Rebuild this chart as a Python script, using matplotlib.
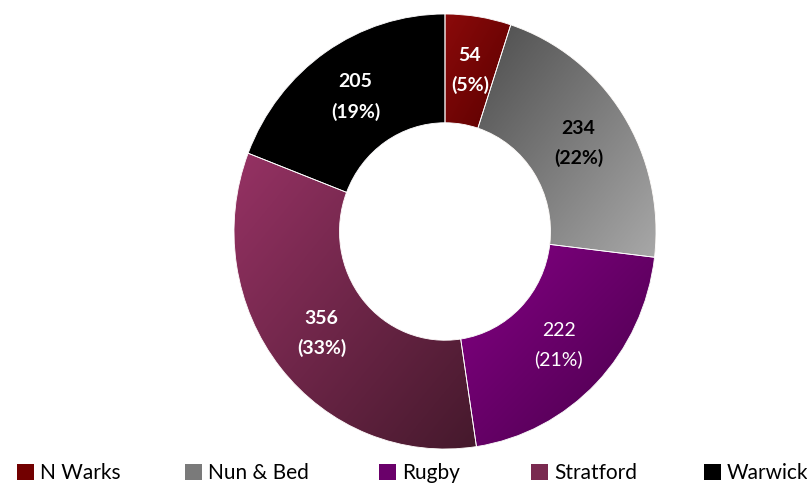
import numpy as np
import matplotlib
matplotlib.use("Agg")
import matplotlib.pyplot as plt
import matplotlib.patches as patches
from matplotlib.colors import LinearSegmentedColormap

plt.rcParams['font.family'] = ['Lato', 'DejaVu Sans']

# districts and counts
districts = ['N Warks', 'Nun & Bed', 'Rugby', 'Stratford', 'Warwick']
counts = [54, 234, 222, 356, 205]

# gradient end colours per slice (top-left -> bottom-right)
grad_start = ['#8B0A0A', '#4D4D4D', '#850085', '#963264', '#000000']
grad_end = ['#5A0000', '#A8A8A8', '#48004A', '#45192C', '#000000']
legend_colors = ['#720000', '#7A7A7A', '#6A006A', '#7A2A50', '#000000']
label_colors = ['white', 'black', 'white', 'white', 'white']
label_weights = ['bold', 'bold', 'normal', 'bold', 'bold']
legend_x = [17, 185, 379, 531, 704]  # left edge of each legend key, px

fig = plt.figure(figsize=(8.07, 4.83), dpi=100)
# axes box sized so the ring sits where it should in pixel space
ax = fig.add_axes([234 / 807, 1 - 449 / 483, 422 / 807, 435 / 483])

total = sum(counts)
wedges, _ = ax.pie(counts, startangle=90, counterclock=False, radius=1,
                   wedgeprops=dict(width=0.5, edgecolor='white', linewidth=0.6))
ax.set_xlim(-1, 1)
ax.set_ylim(-1, 1)
ax.set_aspect('auto')
ax.axis('off')

for i, w in enumerate(wedges):
    # bounding box of the wedge in data coords
    th = np.radians(np.linspace(w.theta1, w.theta2, 200))
    xs = np.concatenate([np.cos(th), 0.5 * np.cos(th)])
    ys = np.concatenate([np.sin(th), 0.5 * np.sin(th)])
    x0, x1, y0, y1 = xs.min(), xs.max(), ys.min(), ys.max()
    gx, gy = np.meshgrid(np.linspace(0, 1, 200), np.linspace(0, 1, 200))
    grad = (gx + gy) / 2  # row 0 is top with origin='upper'
    cmap = LinearSegmentedColormap.from_list('g%d' % i, [grad_start[i], grad_end[i]])
    im = ax.imshow(grad, cmap=cmap, extent=[x0, x1, y0, y1], origin='upper',
                   aspect='auto', zorder=w.get_zorder() + 0.1, interpolation='bilinear')
    im.set_clip_path(w)
    edge = patches.Wedge((0, 0), 1, w.theta1, w.theta2, width=0.5, fill=False,
                         edgecolor='white', linewidth=0.6, zorder=w.get_zorder() + 0.2)
    ax.add_patch(edge)

    mid = np.radians((w.theta1 + w.theta2) / 2)
    pct = round(100 * counts[i] / total)
    ax.text(0.75 * np.cos(mid), 0.75 * np.sin(mid), '%d\n(%d%%)' % (counts[i], pct),
            ha='center', va='center', fontsize=14, color=label_colors[i],
            fontweight=label_weights[i], linespacing=1.8, zorder=5)

# legend keys laid out along the bottom edge
for name, col, x in zip(districts, legend_colors, legend_x):
    fig.legend([patches.Patch(facecolor=col, edgecolor='none')], [name],
               loc='center left', bbox_to_anchor=(x / 807, 1 - 473 / 483),
               frameon=False, fontsize=15, handlelength=0.8, handleheight=0.8,
               handletextpad=0.3, borderaxespad=0, borderpad=0)

fig.savefig('out.png', dpi=100)
